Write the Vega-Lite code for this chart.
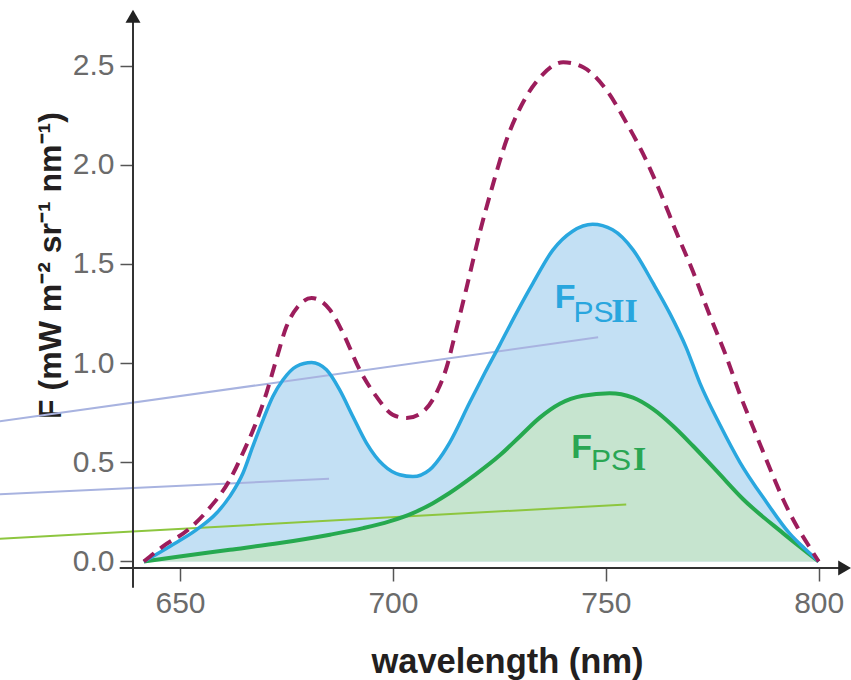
{
  "$schema": "https://vega.github.io/schema/vega-lite/v6.json",
  "width": 711,
  "height": 556,
  "autosize": {"type": "none"},
  "padding": {"left": 133, "top": 12, "right": 7, "bottom": 112},
  "background": "white",
  "config": {"view": {"stroke": null}, "font": "Liberation Sans"},
  "datasets": {
    "curves": [
      {"series": "total", "wl": 641.5, "F": 0},
      {"series": "total", "wl": 646.0, "F": 0.076},
      {"series": "total", "wl": 651.9, "F": 0.160},
      {"series": "total", "wl": 656.6, "F": 0.261},
      {"series": "total", "wl": 661.7, "F": 0.412},
      {"series": "total", "wl": 664.8, "F": 0.548},
      {"series": "total", "wl": 667.5, "F": 0.680},
      {"series": "total", "wl": 670.3, "F": 0.849},
      {"series": "total", "wl": 672.6, "F": 1.017},
      {"series": "total", "wl": 675.0, "F": 1.184},
      {"series": "total", "wl": 677.7, "F": 1.285},
      {"series": "total", "wl": 680.9, "F": 1.328},
      {"series": "total", "wl": 685.2, "F": 1.269},
      {"series": "total", "wl": 688.3, "F": 1.151},
      {"series": "total", "wl": 692.2, "F": 0.966},
      {"series": "total", "wl": 696.1, "F": 0.832},
      {"series": "total", "wl": 700.0, "F": 0.739},
      {"series": "total", "wl": 703.2, "F": 0.723},
      {"series": "total", "wl": 707.1, "F": 0.756},
      {"series": "total", "wl": 710.2, "F": 0.849},
      {"series": "total", "wl": 712.9, "F": 1.000},
      {"series": "total", "wl": 714.1, "F": 1.102},
      {"series": "total", "wl": 717.3, "F": 1.380},
      {"series": "total", "wl": 720.4, "F": 1.658},
      {"series": "total", "wl": 723.5, "F": 1.901},
      {"series": "total", "wl": 726.7, "F": 2.126},
      {"series": "total", "wl": 730.2, "F": 2.300},
      {"series": "total", "wl": 734.5, "F": 2.439},
      {"series": "total", "wl": 740.0, "F": 2.517},
      {"series": "total", "wl": 744.7, "F": 2.491},
      {"series": "total", "wl": 750.1, "F": 2.378},
      {"series": "total", "wl": 754.8, "F": 2.213},
      {"series": "total", "wl": 758.7, "F": 2.057},
      {"series": "total", "wl": 762.7, "F": 1.866},
      {"series": "total", "wl": 766.6, "F": 1.658},
      {"series": "total", "wl": 770.5, "F": 1.460},
      {"series": "total", "wl": 774.4, "F": 1.241},
      {"series": "total", "wl": 778.3, "F": 1.033},
      {"series": "total", "wl": 781.5, "F": 0.842},
      {"series": "total", "wl": 785.4, "F": 0.634},
      {"series": "total", "wl": 789.3, "F": 0.430},
      {"series": "total", "wl": 791.6, "F": 0.315},
      {"series": "total", "wl": 794.8, "F": 0.180},
      {"series": "total", "wl": 797.4, "F": 0.088},
      {"series": "total", "wl": 800.0, "F": 0},
      {"series": "PSII", "wl": 641.5, "F": 0},
      {"series": "PSII", "wl": 647.6, "F": 0.076},
      {"series": "PSII", "wl": 653.9, "F": 0.160},
      {"series": "PSII", "wl": 658.6, "F": 0.244},
      {"series": "PSII", "wl": 661.7, "F": 0.328},
      {"series": "PSII", "wl": 664.8, "F": 0.446},
      {"series": "PSII", "wl": 667.1, "F": 0.580},
      {"series": "PSII", "wl": 669.5, "F": 0.714},
      {"series": "PSII", "wl": 671.8, "F": 0.832},
      {"series": "PSII", "wl": 674.2, "F": 0.916},
      {"series": "PSII", "wl": 677.3, "F": 0.983},
      {"series": "PSII", "wl": 680.9, "F": 1.003},
      {"series": "PSII", "wl": 684.4, "F": 0.966},
      {"series": "PSII", "wl": 687.5, "F": 0.865},
      {"series": "PSII", "wl": 690.6, "F": 0.731},
      {"series": "PSII", "wl": 693.8, "F": 0.597},
      {"series": "PSII", "wl": 697.7, "F": 0.487},
      {"series": "PSII", "wl": 701.6, "F": 0.437},
      {"series": "PSII", "wl": 704.7, "F": 0.428},
      {"series": "PSII", "wl": 708.6, "F": 0.462},
      {"series": "PSII", "wl": 711.8, "F": 0.546},
      {"series": "PSII", "wl": 713.3, "F": 0.598},
      {"series": "PSII", "wl": 718.0, "F": 0.800},
      {"series": "PSII", "wl": 721.6, "F": 0.951},
      {"series": "PSII", "wl": 725.1, "F": 1.092},
      {"series": "PSII", "wl": 729.0, "F": 1.252},
      {"series": "PSII", "wl": 732.9, "F": 1.403},
      {"series": "PSII", "wl": 737.6, "F": 1.571},
      {"series": "PSII", "wl": 742.2, "F": 1.665},
      {"series": "PSII", "wl": 746.9, "F": 1.700},
      {"series": "PSII", "wl": 751.6, "F": 1.672},
      {"series": "PSII", "wl": 756.4, "F": 1.571},
      {"series": "PSII", "wl": 761.1, "F": 1.403},
      {"series": "PSII", "wl": 765.0, "F": 1.252},
      {"series": "PSII", "wl": 768.9, "F": 1.077},
      {"series": "PSII", "wl": 772.1, "F": 0.899},
      {"series": "PSII", "wl": 776.8, "F": 0.689},
      {"series": "PSII", "wl": 781.5, "F": 0.500},
      {"series": "PSII", "wl": 787.7, "F": 0.300},
      {"series": "PSII", "wl": 793.2, "F": 0.140},
      {"series": "PSII", "wl": 796.7, "F": 0.065},
      {"series": "PSII", "wl": 800.0, "F": 0},
      {"series": "PSI", "wl": 641.5, "F": 0},
      {"series": "PSI", "wl": 649.9, "F": 0.025},
      {"series": "PSI", "wl": 661.7, "F": 0.059},
      {"series": "PSI", "wl": 673.4, "F": 0.093},
      {"series": "PSI", "wl": 685.2, "F": 0.135},
      {"series": "PSI", "wl": 693.0, "F": 0.168},
      {"series": "PSI", "wl": 699.2, "F": 0.202},
      {"series": "PSI", "wl": 704.7, "F": 0.244},
      {"series": "PSI", "wl": 709.4, "F": 0.294},
      {"series": "PSI", "wl": 713.3, "F": 0.345},
      {"series": "PSI", "wl": 719.2, "F": 0.435},
      {"series": "PSI", "wl": 725.1, "F": 0.535},
      {"series": "PSI", "wl": 729.8, "F": 0.630},
      {"series": "PSI", "wl": 734.5, "F": 0.725},
      {"series": "PSI", "wl": 739.2, "F": 0.795},
      {"series": "PSI", "wl": 744.6, "F": 0.835},
      {"series": "PSI", "wl": 750.9, "F": 0.848},
      {"series": "PSI", "wl": 756.4, "F": 0.826},
      {"series": "PSI", "wl": 761.1, "F": 0.768},
      {"series": "PSI", "wl": 765.8, "F": 0.683},
      {"series": "PSI", "wl": 770.5, "F": 0.582},
      {"series": "PSI", "wl": 776.3, "F": 0.450},
      {"series": "PSI", "wl": 782.2, "F": 0.315},
      {"series": "PSI", "wl": 791.6, "F": 0.143},
      {"series": "PSI", "wl": 800.0, "F": 0}
    ],
    "labels": [
      {"series": "PSII", "part": "F", "text": "F", "wl": 738.0, "F": 1.279},
      {"series": "PSII", "part": "PS", "text": "PS", "wl": 742.4, "F": 1.208},
      {"series": "PSII", "part": "roman", "text": "II", "wl": 751.3, "F": 1.208},
      {"series": "PSI", "part": "F", "text": "F", "wl": 741.9, "F": 0.521},
      {"series": "PSI", "part": "PS", "text": "PS", "wl": 746.5, "F": 0.462},
      {"series": "PSI", "part": "roman", "text": "I", "wl": 756.4, "F": 0.462}
    ],
    "leaders": [
      {"kind": "lav", "wl": 600, "F": 0.683, "wl2": 748.2, "F2": 1.130},
      {"kind": "lav", "wl": 600, "F": 0.331, "wl2": 685.0, "F2": 0.417},
      {"kind": "grn", "wl": 600, "F": 0.106, "wl2": 754.8, "F2": 0.287}
    ],
    "frame": [
      {"part": "line", "wl": 635.84, "F": -0.033, "wl2": 805.4, "F2": -0.033},
      {"part": "line", "wl": 638.96, "F": -0.1326, "wl2": 638.96, "F2": 2.74},
      {"part": "up", "wl": 638.96, "F": 2.749},
      {"part": "right", "wl": 806.1, "F": -0.033}
    ]
  },
  "encoding": {
    "x": {
      "field": "wl",
      "type": "quantitative",
      "scale": {"domain": [638.96, 805.94], "nice": false, "zero": false},
      "axis": {
        "values": [650, 700, 750, 800],
        "domain": false,
        "grid": false,
        "tickSize": 13,
        "tickColor": "#555555",
        "tickWidth": 1.5,
        "labelFont": "Liberation Sans",
        "labelFontSize": 30,
        "labelColor": "#6b6b6b",
        "labelPadding": 7,
        "labelFlush": false,
        "title": "wavelength (nm)",
        "titleFont": "Liberation Sans",
        "titleFontSize": 34.5,
        "titleFontWeight": "bold",
        "titleColor": "#231f20",
        "titleX": 374,
        "titleY": 104,
        "titleAlign": "center",
        "titleBaseline": "alphabetic"
      }
    },
    "y": {
      "field": "F",
      "type": "quantitative",
      "scale": {"domain": [-0.033, 2.77], "nice": false, "zero": false},
      "axis": {
        "values": [0, 0.5, 1, 1.5, 2, 2.5],
        "format": ".1f",
        "domain": false,
        "grid": false,
        "tickSize": 13,
        "tickColor": "#555555",
        "tickWidth": 1.5,
        "labelFont": "Liberation Sans",
        "labelFontSize": 30,
        "labelColor": "#6b6b6b",
        "labelPadding": 6,
        "labelFlush": false,
        "title": "F (mW m⁻² sr⁻¹ nm⁻¹)",
        "titleFont": "Liberation Sans",
        "titleFontSize": 32,
        "titleFontWeight": "bold",
        "titleColor": "#231f20",
        "titleAngle": -90,
        "titleX": -83,
        "titleY": 253,
        "titleAlign": "center",
        "titleBaseline": "middle"
      }
    }
  },
  "layer": [
    {
      "data": {"name": "curves"},
      "transform": [{"filter": "datum.series === 'PSII'"}],
      "mark": {"type": "area", "interpolate": "monotone", "color": "#c3e0f4", "opacity": 1},
      "encoding": {"y2": {"datum": 0}}
    },
    {
      "data": {"name": "curves"},
      "transform": [{"filter": "datum.series === 'PSI'"}],
      "mark": {"type": "area", "interpolate": "monotone", "color": "#c6e4cf", "opacity": 1},
      "encoding": {"y2": {"datum": 0}}
    },
    {
      "data": {"name": "leaders"},
      "transform": [{"filter": "datum.kind === 'lav'"}],
      "mark": {"type": "rule", "color": "#a8b3e0", "strokeWidth": 2},
      "encoding": {"x2": {"field": "wl2"}, "y2": {"field": "F2"}}
    },
    {
      "data": {"name": "leaders"},
      "transform": [{"filter": "datum.kind === 'grn'"}],
      "mark": {"type": "rule", "color": "#8dc63f", "strokeWidth": 2},
      "encoding": {"x2": {"field": "wl2"}, "y2": {"field": "F2"}}
    },
    {
      "data": {"name": "curves"},
      "transform": [{"filter": "datum.series === 'PSI'"}],
      "mark": {"type": "line", "interpolate": "monotone", "color": "#26a94f", "strokeWidth": 4}
    },
    {
      "data": {"name": "curves"},
      "transform": [{"filter": "datum.series === 'PSII'"}],
      "mark": {"type": "line", "interpolate": "monotone", "color": "#29a7df", "strokeWidth": 3.5}
    },
    {
      "data": {"name": "curves"},
      "transform": [{"filter": "datum.series === 'total'"}],
      "mark": {"type": "line", "interpolate": "monotone", "color": "#9c1d5c", "strokeWidth": 4, "strokeDash": [13, 8]}
    },
    {
      "data": {"name": "frame"},
      "transform": [{"filter": "datum.part === 'line'"}],
      "mark": {"type": "rule", "color": "#333333", "strokeWidth": 2},
      "encoding": {"x2": {"field": "wl2"}, "y2": {"field": "F2"}}
    },
    {
      "data": {"name": "frame"},
      "transform": [{"filter": "datum.part === 'up'"}],
      "mark": {"type": "point", "shape": "triangle-up", "size": 225, "filled": true, "color": "#222222", "opacity": 1}
    },
    {
      "data": {"name": "frame"},
      "transform": [{"filter": "datum.part === 'right'"}],
      "mark": {"type": "point", "shape": "triangle-right", "size": 225, "filled": true, "color": "#222222", "opacity": 1}
    },
    {
      "data": {"name": "labels"},
      "transform": [{"filter": "datum.part === 'F'"}],
      "mark": {"type": "text", "align": "left", "baseline": "alphabetic", "font": "Liberation Sans", "fontWeight": "bold", "fontSize": 34},
      "encoding": {
        "text": {"field": "text"},
        "color": {"field": "series", "type": "nominal", "scale": {"domain": ["PSII", "PSI"], "range": ["#29a6de", "#2aa653"]}, "legend": null}
      }
    },
    {
      "data": {"name": "labels"},
      "transform": [{"filter": "datum.part === 'PS'"}],
      "mark": {"type": "text", "align": "left", "baseline": "alphabetic", "font": "Liberation Sans", "fontWeight": "normal", "fontSize": 30},
      "encoding": {
        "text": {"field": "text"},
        "color": {"field": "series", "type": "nominal", "scale": {"domain": ["PSII", "PSI"], "range": ["#29a6de", "#2aa653"]}, "legend": null}
      }
    },
    {
      "data": {"name": "labels"},
      "transform": [{"filter": "datum.part === 'roman'"}],
      "mark": {"type": "text", "align": "left", "baseline": "alphabetic", "font": "Liberation Serif", "fontWeight": "bold", "fontSize": 34},
      "encoding": {
        "text": {"field": "text"},
        "color": {"field": "series", "type": "nominal", "scale": {"domain": ["PSII", "PSI"], "range": ["#29a6de", "#2aa653"]}, "legend": null}
      }
    }
  ]
}
